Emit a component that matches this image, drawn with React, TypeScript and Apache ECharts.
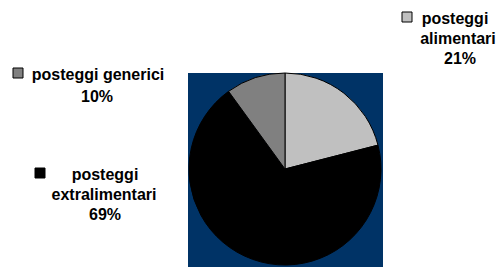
import React, { useEffect, useRef } from "react";
import * as echarts from "echarts";

const categories = ["posteggi\nalimentari", "posteggi\nextralimentari", "posteggi generici"];
const values = [21, 69, 10];
const colors = ["#C0C0C0", "#000000", "#808080"];

export default function App() {
  const ref = useRef<HTMLDivElement>(null);
  useEffect(() => {
    const chart = echarts.init(ref.current!, null, { renderer: "svg" });
    const total = values.reduce((a, b) => a + b, 0);
    const pct = values.map((v) => Math.round((v / total) * 100) + "%");
    const font = "bold 16px 'Liberation Sans', Arial, sans-serif";
    const txt = (text: string, x: number, y: number) => ({
      type: "text",
      x,
      y,
      style: { text, font, fill: "#000", align: "center", verticalAlign: "middle" },
      z: 10,
    });
    const marker = (x: number, y: number, c: string) => ({
      type: "rect",
      shape: { x, y, width: 10, height: 10 },
      style: { fill: c, stroke: "#000", lineWidth: 1 },
      z: 10,
    });
    const [a1, a2] = categories[0].split("\n");
    const [e1, e2] = categories[1].split("\n");
    chart.setOption({
      animation: false,
      graphic: [
        { type: "rect", shape: { x: 188, y: 73, width: 195, height: 194 }, style: { fill: "#003366" }, z: -10 },
        marker(402, 12, colors[0]),
        txt(a1, 455, 18),
        txt(a2, 458, 38),
        txt(pct[0], 460, 58),
        marker(13, 68, colors[2]),
        txt(categories[2], 98, 74),
        txt(pct[2], 97, 96),
        marker(35, 168, colors[1]),
        txt(e1, 105, 174),
        txt(e2, 104, 194),
        txt(pct[1], 105, 214),
      ],
      series: [
        {
          type: "pie",
          center: [285, 169],
          radius: 96,
          startAngle: 90,
          clockwise: true,
          label: { show: false },
          labelLine: { show: false },
          emphasis: { disabled: true },
          itemStyle: { borderColor: "#000", borderWidth: 1 },
          data: categories.map((n, i) => ({ name: n, value: values[i], itemStyle: { color: colors[i] } })),
        },
      ],
    });
    return () => chart.dispose();
  }, []);
  return <div ref={ref} style={{ width: 499, height: 267, position: "absolute", left: 0, top: 0 }} />;
}
